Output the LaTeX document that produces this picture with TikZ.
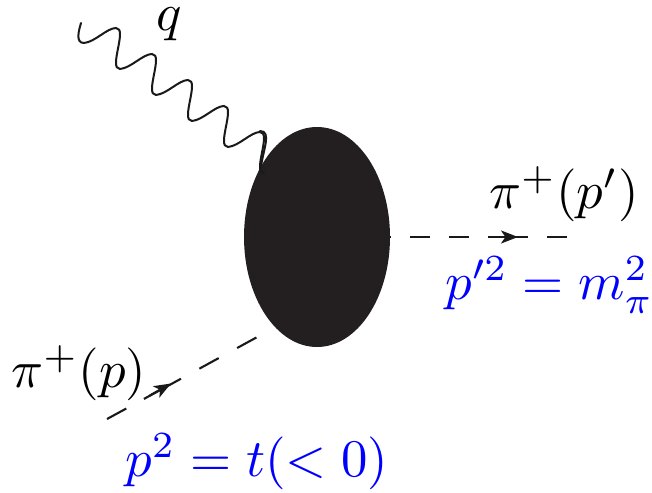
\documentclass[tikz,border=0pt]{standalone}
\usepackage{xcolor}
\usetikzlibrary{shapes,arrows.meta,positioning,calc}

\begin{document}
\begin{tikzpicture}[
    x=0.5pt, y=-0.5pt,
    blob/.style={ellipse, fill=blobgray, draw=none, inner sep=0pt, minimum width=73pt, minimum height=110pt},
    lbl/.style={inner sep=0pt, scale=2.64},
    masslbl/.style={lbl, text=blue},
    photon/.style={line width=1pt, line cap=round, black!90},
    scalar/.style={line width=1.05pt, black!90, dash pattern=on 10.5pt off 10.5pt},
    tip/.style={line width=1.05pt, black!90, -{Stealth[length=8.5pt,width=6.5pt,inset=2.2pt]}}
]
\definecolor{blobgray}{HTML}{231F20}
\useasboundingbox (0,0) rectangle (652,492);

\node [blob] (core) at (317,237) {};

% labels
\node [lbl] (qlbl) at (169,24) {$q$};
\node [lbl] (pifin) at (564,194) {$\pi^+(p')$};
\node [masslbl] (massfin) at (549.5,285) {$p'^2=m_\pi^2$};
\node [lbl] (piini) at (79,373) {$\pi^+(p)$};
\node [masslbl] (massini) at (257,462) {$p^2=t(<0)$};

% wavy line
\coordinate (qin) at (81,23);
\draw [photon] (qin) .. controls (79,30) and (75,43) .. (84,43);
\foreach \i in {0,...,4} {
    \draw [photon] ({84+36*\i},{43+26*\i}) .. controls ({95+36*\i},{42+26*\i}) and ({107+36*\i},{28+26*\i}) .. ({116+36*\i},{28+26*\i})
        .. controls ({128+36*\i},{28+26*\i}) and ({108+36*\i},{69+26*\i}) .. ({120+36*\i},{69+26*\i});
}
\coordinate (qout) at (261,167);
\draw [photon] (260,131) .. controls (272,131) and (263,150) .. (qout);

% incoming pion
\coordinate (pin) at (107,419);
\coordinate (pmid) at (164,388);
\draw [scalar, dash pattern=on 11pt off 10pt] (pin) -- (pmid);
\draw [scalar, dash pattern=on 11pt off 10.5pt, dash phase=11pt] (core.245) -- (pmid);
\coordinate (ptail) at (150,395.4);
\coordinate (ptip) at (171,383.5);
\draw [tip] (ptail) -- (ptip);

% outgoing pion
\coordinate (kmid) at (509,237);
\coordinate (kout) at (567,237);
\draw [scalar, dash pattern=on 10pt off 9.5pt, dash phase=9.5pt] (core.east) -- (kmid);
\draw [scalar, dash pattern=on 10pt off 9.5pt] (kout) -- (kmid);
\coordinate (ktail) at (495,237);
\coordinate (ktip) at (518,237);
\draw [tip] (ktail) -- (ktip);

\end{tikzpicture}
\end{document}
